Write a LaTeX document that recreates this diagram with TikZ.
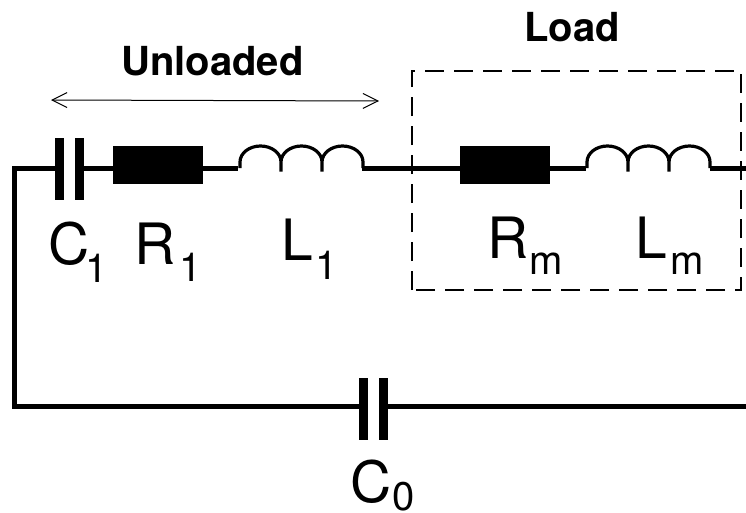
\documentclass[tikz,border=0pt]{standalone}
\usepackage{fontspec}
\setmainfont{TeX Gyre Heros}
\usetikzlibrary{arrows.meta}
\newcommand{\subf}{\fontsize{40}{40}\selectfont}
\newcommand{\lblt}[4]{\makebox[#1pt][l]{#2}\raisebox{-#3pt}{\subf #4}}
\tikzset{
  wire/.style={line width=5.2pt,line cap=butt},
  coilline/.style={line width=3.2pt,line join=round},
  resbox/.style={fill=black,draw=none,minimum width=90pt,minimum height=38.5pt,inner sep=0pt,outer sep=0pt},
  plate/.style={fill=black,draw=none,minimum width=9pt,minimum height=62pt,inner sep=0pt,outer sep=0pt},
  lab/.style={font=\fontsize{57}{57}\selectfont,inner sep=0pt,anchor=base west},
  head/.style={font=\bfseries\fontsize{40}{40}\selectfont,inner sep=0pt,anchor=base west}
}
\newcommand{\coilat}[1]{%
  \draw[coilline] (#1,168) -- ++(0,-6) arc[start angle=180,end angle=360,x radius=20.5,y radius=16] -- ++(0,9.5)
   ++(0,-9.5) arc[start angle=180,end angle=360,x radius=20.5,y radius=16] -- ++(0,9.5)
   ++(0,-9.5) arc[start angle=180,end angle=360,x radius=20.5,y radius=16] -- ++(0,6);}
\begin{document}
\begin{tikzpicture}[x=1pt,y=-1pt]
\useasboundingbox (0,0) rectangle (746,512);
\node[plate] (c1a) at (59.5,168.5) {};
\node[plate] (c1b) at (79.3,168.5) {};
\node[resbox] (r1) at (157.5,165) {};
\node[resbox] (rm) at (505,165) {};
\node[plate] (c0a) at (363,408.5) {};
\node[plate] (c0b) at (383,408.5) {};
\coordinate (l1a) at (238,168.3);
\coordinate (l1b) at (362,168.3);
\coordinate (lma) at (586,168.3);
\coordinate (lmb) at (710,168.3);
\coordinate (rightT) at (746,168.3);
\coordinate (rightB) at (746,406.5);
\coordinate (cornerT) at (14.5,168.3);
\coordinate (cornerB) at (14.5,406.5);
\draw[wire,line join=miter] (c1a.center |- cornerT) -- (cornerT) -- (cornerB) -- (c0a.center |- cornerB);
\draw[wire] (c0b.center |- rightB) -- (rightB);
\draw[wire] (c1b.center |- l1a) -- (r1.center |- l1a);
\draw[wire] (r1.center |- l1a) -- (l1a);
\draw[wire] (l1b) -- (rm.center |- l1b);
\draw[wire] (rm.center |- lma) -- (lma);
\draw[wire] (lmb) -- (rightT);
\coilat{240}
\coilat{587}
\draw[line width=2.5pt,dash pattern=on 19pt off 10pt] (412,290) -- (412,71) -- (741,71) -- (741,290) -- cycle;
\coordinate (ua) at (51,100);
\coordinate (ub) at (379,101);
\draw[line width=1pt,{Straight Barb[length=15pt,width=15pt,line width=1pt]}-{Straight Barb[length=15pt,width=15pt,line width=1pt]}] (ua) -- (ub);
\node[head] (load) at (524,41) {Load};
\node[head] (unl) at (121,75) {Unloaded};
\node[lab] (c1) at (48,264) {\lblt{37}{C}{18}{1}};
\node[lab] (r1l) at (134.5,264) {\lblt{44.5}{R}{17}{1}};
\node[lab] (l1l) at (281.5,260) {\lblt{33.5}{L}{19}{1}};
\node[lab] (rml) at (487.5,258) {\lblt{42}{R}{16}{m}};
\node[lab] (lml) at (635.5,258) {\lblt{35}{L}{16}{m}};
\node[lab] (c0) at (350,502) {\lblt{42}{C}{8.5}{0}};
\end{tikzpicture}
\end{document}
